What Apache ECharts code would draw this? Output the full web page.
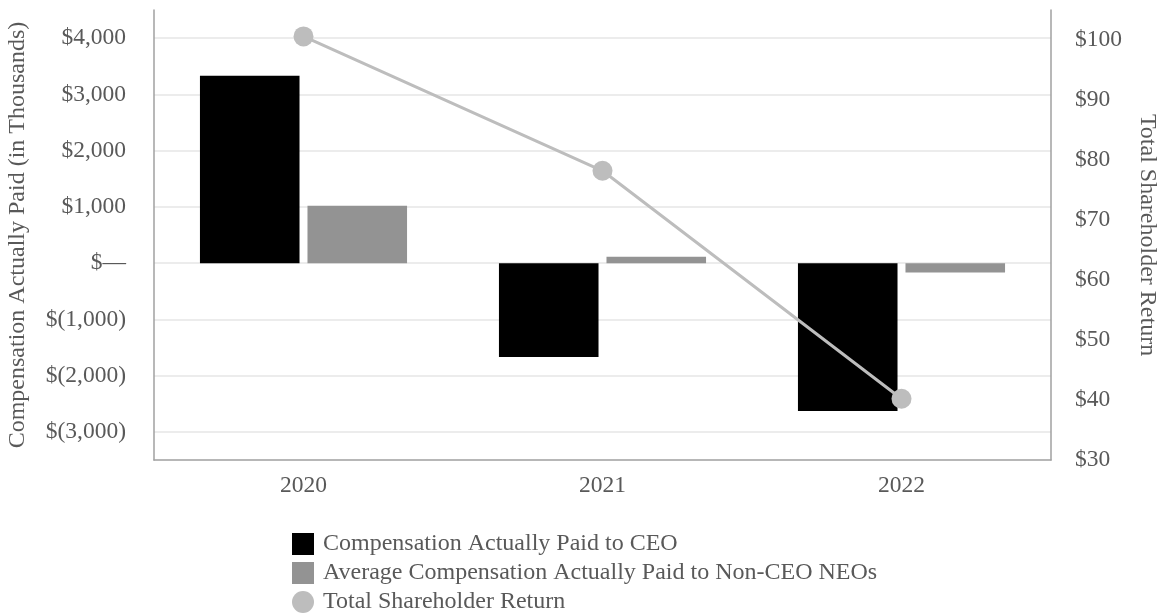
<!DOCTYPE html>
<html>
<head>
<meta charset="utf-8">
<script src="https://cdn.jsdelivr.net/npm/echarts@6/dist/echarts.min.js"></script>
<style>html,body{margin:0;padding:0;background:#fff}#c{width:1164px;height:614px}</style>
</head>
<body>
<div id="c"></div>
<script>
const years = ['2020', '2021', '2022'];
const ceoPaid = [3330, -1670, -2630];
const neoPaid = [1020, 115, -165];
const tsr = [100.6, 78.2, 40.2];
const seriesNames = ['Compensation Actually Paid to CEO', 'Average Compensation Actually Paid to Non-CEO NEOs', 'Total Shareholder Return'];

const FONT = '"Liberation Serif", "Times New Roman", serif';
const TXT = '#595959';

function commas(n) { return String(n).replace(/\B(?=(\d{3})+(?!\d))/g, ','); }
function leftFmt(v) {
  if (Math.abs(v % 1000) !== 0) return '';
  if (v === 0) return '$\u2014';
  if (v < 0) return '$(' + commas(-v) + ')';
  return '$' + commas(v);
}

const chart = echarts.init(document.getElementById('c'));
chart.setOption({
  animation: false,
  grid: { left: 154, right: 113, top: 10, bottom: 154, containLabel: false, outerBoundsMode: 'none' },
  legend: {
    orient: 'vertical', left: 292, top: 532, height: 200,
    itemWidth: 22, itemHeight: 22, itemGap: 5, padding: 0,
    textStyle: { fontFamily: FONT, fontSize: 24, color: TXT, padding: [0, 0, 0, 4] },
    data: [
      { name: seriesNames[0], icon: 'rect' },
      { name: seriesNames[1], icon: 'rect' },
      { name: seriesNames[2], icon: 'circle' }
    ]
  },
  xAxis: {
    type: 'category', data: years,
    axisLine: { onZero: false, lineStyle: { color: '#a0a0a0', width: 1.5 } },
    axisTick: { show: false },
    axisLabel: { fontFamily: FONT, fontSize: 23.5, color: TXT, margin: 14 }
  },
  yAxis: [
    {
      type: 'value', min: -3500, max: 4500, interval: 500,
      name: 'Compensation Actually Paid (in Thousands)', nameLocation: 'middle', nameGap: 124,
      nameTextStyle: { fontFamily: FONT, fontSize: 24, color: TXT },
      axisLine: { show: true, lineStyle: { color: '#a0a0a0', width: 1.5 } },
      axisTick: { show: false },
      axisLabel: { fontFamily: FONT, fontSize: 23.5, color: TXT, margin: 28, formatter: leftFmt },
      splitLine: { show: true, lineStyle: { color: ['rgba(0,0,0,0)', '#e6e6e6'], width: 1.5 } }
    },
    {
      type: 'value', min: 30, max: 105, interval: 10,
      name: 'Total Shareholder Return', nameLocation: 'middle', nameGap: 84, nameRotate: -90,
      nameTextStyle: { fontFamily: FONT, fontSize: 24, color: TXT },
      axisLine: { show: true, lineStyle: { color: '#a0a0a0', width: 1.5 } },
      axisTick: { show: false },
      axisLabel: { fontFamily: FONT, fontSize: 23.5, color: TXT, margin: 24,
        formatter: v => (v > 100 ? '' : '$' + v) },
      splitLine: { show: false }
    }
  ],
  series: [
    { name: seriesNames[0], type: 'bar', data: ceoPaid, barWidth: '33.3%', barGap: '8%',
      itemStyle: { color: '#000000' } },
    { name: seriesNames[1], type: 'bar', data: neoPaid, barWidth: '33.3%',
      itemStyle: { color: '#939393' } },
    { name: seriesNames[2], type: 'line', yAxisIndex: 1, data: tsr,
      symbol: 'circle', symbolSize: 20,
      lineStyle: { color: '#bdbdbd', width: 3 },
      itemStyle: { color: '#bdbdbd' }, z: 5 }
  ]
});
</script>
</body>
</html>
